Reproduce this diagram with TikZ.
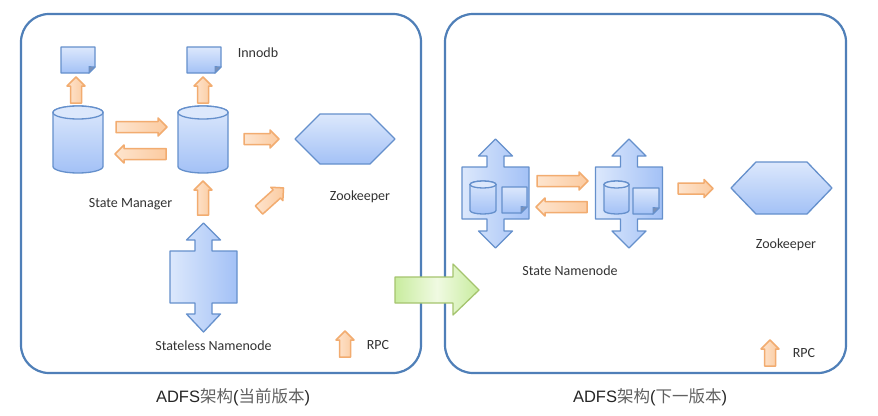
\documentclass[tikz,border=0pt]{standalone}
\usepackage{fontspec}
\setmainfont{Carlito}
\newfontfamily\cjk{Noto Sans CJK SC}
\newfontfamily\latinsans{Liberation Sans}
\definecolor{edgeblue}{HTML}{6590CC}
\definecolor{boxblue}{HTML}{4F7FB8}
\definecolor{lightblue}{HTML}{DCE8FC}
\definecolor{midblue}{HTML}{A3C1F6}
\definecolor{edgeorange}{HTML}{F2AC70}
\definecolor{lightorange}{HTML}{FDE4CE}
\definecolor{midorange}{HTML}{FCCBA0}
\definecolor{edgegreen}{HTML}{A5C46E}
\definecolor{lightgreen}{HTML}{F0FAE2}
\definecolor{midgreen}{HTML}{C8EC9E}
\tikzset{
  panel/.style={draw=boxblue,line width=2.2pt,fill=white,rounded corners=28pt},
  blueV/.style={draw=edgeblue,line width=1.3pt,line join=round,top color=lightblue,bottom color=midblue},
  blueH/.style={draw=edgeblue,line width=1.3pt,line join=round,left color=lightblue,right color=midblue},
  orangeshape/.style={draw=edgeorange,line width=1.5pt,line join=round,left color=lightorange,right color=midorange},
  greenshape/.style={draw=edgegreen,line width=1.3pt,line join=round,left color=midgreen,right color=midgreen,middle color=lightgreen},
  lbl/.style={font=\fontsize{14}{16}\selectfont,text=black!80,inner sep=0pt},
  captext/.style={font=\fontsize{16.5}{19}\latinsans,text=black!85,inner sep=0pt}
}
% x, y of tail centre, angle, length
\newcommand{\orangearrow}[4]{%
  \draw[orangeshape,shift={(#1,#2)},rotate=#3]
    (0,-5.5)--(#4-9,-5.5)--(#4-9,-9)--(#4,0)--(#4-9,9)--(#4-9,5.5)--(0,5.5)--cycle;}
% x0 y0 x1 y1
\newcommand{\docshape}[4]{%
  \draw[blueV] (#1,#2)--(#3,#2)--(#3,#4-6)--(#3-6,#4)--(#1,#4)--cycle;
  \draw[draw=edgeblue,line width=.8pt,fill=midblue!75!black] (#3,#4-6)--(#3-6,#4-6.5)--(#3-6,#4)--cycle;}
% x0 y0 x1 y1 ry
\newcommand{\cylshape}[5]{%
  \draw[blueV] (#1,#2+#5) arc[x radius={(#3-#1)/2},y radius=#5,start angle=180,end angle=360]
    --(#3,#4-#5) arc[x radius={(#3-#1)/2},y radius=#5,start angle=0,end angle=180]--cycle;
  \draw[draw=edgeblue,line width=1.3pt,fill=lightblue] ({(#1+#3)/2},#2+#5) ellipse[x radius={(#3-#1)/2},y radius=#5];}
% cx, top tip, head base top, body top, body bottom, head base bottom, bottom tip, body half width
\newcommand{\crossshape}[8]{%
  \draw[blueH] (#1,#2)--(#1+17,#3)--(#1+8.5,#3)--(#1+8.5,#4)--(#1+#8,#4)--(#1+#8,#5)--(#1+8.5,#5)--(#1+8.5,#6)--(#1+17,#6)
    --(#1,#7)--(#1-17,#6)--(#1-8.5,#6)--(#1-8.5,#5)--(#1-#8,#5)--(#1-#8,#4)--(#1-8.5,#4)--(#1-8.5,#3)--(#1-17,#3)--cycle;}
% x0 y0 x1 y1
\newcommand{\hexshape}[4]{%
  \draw[blueV] (#1,{(#2+#4)/2})--(#1+25,#2)--(#3-25,#2)--(#3,{(#2+#4)/2})--(#3-25,#4)--(#1+25,#4)--cycle;}
\newcommand{\cjkgray}[1]{{\cjk\color{black!62}#1}}
\begin{document}
\begin{tikzpicture}[x=1pt,y=-1pt]
\useasboundingbox (0,0) rectangle (878,415);
\fill[white] (0,0) rectangle (878,415);
\draw[panel] (21,14) rectangle (421,373);
\draw[panel] (445,14) rectangle (846,373);
% left panel
\docshape{61}{47}{95}{73}
\docshape{187}{47}{221}{73}
\cylshape{53}{106}{103}{173}{6.5}
\cylshape{178}{106}{228}{173}{6.5}
\orangearrow{76}{103}{90}{26}
\orangearrow{203}{103}{90}{26}
\orangearrow{116}{127}{0}{51}
\orangearrow{166}{154}{180}{51}
\orangearrow{203}{215}{90}{34}
\orangearrow{244}{139}{0}{35}
\orangearrow{259}{210}{42}{33}
\hexshape{295}{114}{395}{164}
\crossshape{203.5}{223}{240}{251}{303}{314}{332}{33.5}
\orangearrow{345}{357}{90}{26}
\node[lbl] (innodb) at (258,53) {Innodb};
\node[lbl] (statemanager) at (130.5,204.5) {State Manager};
\node[lbl] (zk1) at (360,196.5) {Zookeeper};
\node[lbl] (stateless) at (213.5,345.5) {Stateless Namenode};
\node[lbl] (rpc1) at (378,345.5) {RPC};
% right panel
\crossshape{495.5}{139}{156}{167}{219}{231}{248}{33.5}
\crossshape{629}{139}{156}{167}{219}{231}{248}{33.5}
\cylshape{470}{181}{496}{214}{3.5}
\docshape{502}{187}{527}{213}
\cylshape{604}{181}{629}{214}{3.5}
\docshape{633}{188}{659}{214}
\orangearrow{537}{181}{0}{51}
\orangearrow{587}{207}{180}{51}
\orangearrow{678}{188.5}{0}{35}
\hexshape{731}{162}{832}{214}
\orangearrow{770}{366}{90}{26}
\node[lbl] (statenn) at (570,271) {State Namenode};
\node[lbl] (zk2) at (786,244.5) {Zookeeper};
\node[lbl] (rpc2) at (804,353.5) {RPC};
% green arrow
\draw[greenshape] (395,277)--(453,277)--(453,264)--(479,290)--(453,315)--(453,303)--(395,303)--cycle;
% captions
\node[captext] (cap1) at (233,397) {ADFS\cjkgray{架构}(\cjkgray{当前版本})};
\node[captext] (cap2) at (650,397) {ADFS\cjkgray{架构}(\cjkgray{下一版本})};
\end{tikzpicture}
\end{document}
